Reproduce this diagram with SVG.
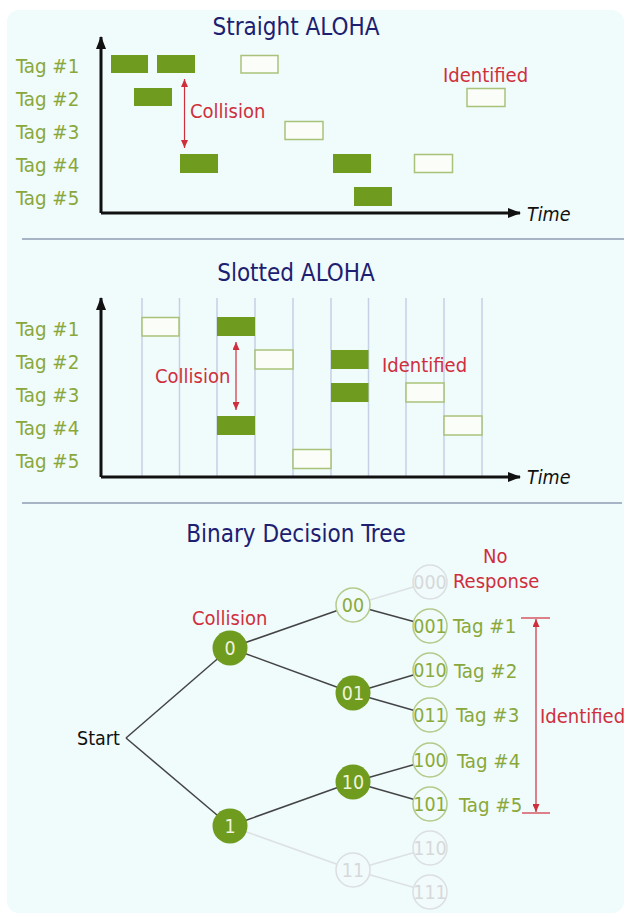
<svg xmlns="http://www.w3.org/2000/svg" width="627" height="917" viewBox="0 0 627 917">
<style>
text{font-family:"DejaVu Sans Condensed","DejaVu Sans",sans-serif}
.title{font-size:24px;fill:#1d2070;text-anchor:middle}
.tag{font-size:20.3px;fill:#8aa83a}
.red{font-size:20px;fill:#cf2f3c}
.time{font-size:19.5px;fill:#111;font-style:italic}
.f{fill:#6f9b1f}
.o{fill:#fbfdf8;stroke:#a9c27a;stroke-width:1.5}
.axis{stroke:#111;stroke-width:3;fill:none}
.slot{stroke:#c5d0e4;stroke-width:1.5}
.sep{stroke:#8e9cb4;stroke-width:1.5}
.rl{stroke:#cf2f3c;stroke-width:1.2;fill:none}
.e{stroke:#444;stroke-width:1.5}
.ef{stroke:#dde1e2;stroke-width:1.5}
.nf{fill:#6f9b1f}
.nt{font-size:19.5px;fill:#eef4dc;text-anchor:middle}
.no{fill:#f2fbfb;stroke:#b3cb8a;stroke-width:1.5}
.not{font-size:19.5px;fill:#8aab3a;text-anchor:middle}
.nx{fill:#f2fbfb;stroke:#dcdfe0;stroke-width:1.5}
.nxt{font-size:19.5px;fill:#d6d9da;text-anchor:middle}
</style>
<defs>
<marker id="ah" markerUnits="userSpaceOnUse" markerWidth="13" markerHeight="10" refX="12" refY="5" orient="auto"><path d="M0,0 L13,5 L0,10 z" fill="#111"/></marker>
<marker id="rh" markerUnits="userSpaceOnUse" markerWidth="8" markerHeight="7" refX="8" refY="3.5" orient="auto-start-reverse"><path d="M0,0 L8,3.5 L0,7 z" fill="#cf2f3c"/></marker>
</defs>
<rect x="0" y="0" width="627" height="917" fill="#ffffff"/>
<rect x="7" y="10" width="617" height="903" rx="12" fill="#f0fbfc"/>
<line class="sep" x1="22" y1="239" x2="624" y2="239"/>
<line class="sep" x1="22" y1="503" x2="622" y2="503"/>

<g id="straight-aloha">
<text class="title" x="296" y="35">Straight ALOHA</text>
<line class="axis" x1="101" y1="213" x2="101" y2="37" marker-end="url(#ah)"/>
<line class="axis" x1="101" y1="213" x2="520" y2="213" marker-end="url(#ah)"/>
<text class="time" x="527" y="221">Time</text>
<text class="tag" x="16" y="73">Tag #1</text>
<text class="tag" x="16" y="106">Tag #2</text>
<text class="tag" x="16" y="139">Tag #3</text>
<text class="tag" x="16" y="172">Tag #4</text>
<text class="tag" x="16" y="205">Tag #5</text>
<rect class="f" x="111" y="55" width="37" height="18"/>
<rect class="f" x="157" y="55" width="38" height="18"/>
<rect class="o" x="241" y="55.5" width="37" height="17.5"/>
<rect class="f" x="134" y="88" width="38" height="18"/>
<rect class="o" x="467" y="88.5" width="38" height="18"/>
<rect class="o" x="285" y="121.5" width="38" height="18"/>
<rect class="f" x="180" y="154" width="38" height="19"/>
<rect class="f" x="333" y="154" width="38" height="19"/>
<rect class="o" x="414.5" y="154.5" width="38" height="18"/>
<rect class="f" x="354" y="187" width="38" height="19"/>
<line class="rl" x1="184.5" y1="79" x2="184.5" y2="148" marker-start="url(#rh)" marker-end="url(#rh)"/>
<text class="red" x="190" y="118">Collision</text>
<text class="red" x="443" y="82">Identified</text>
</g>

<g id="slotted-aloha">
<text class="title" x="296" y="281">Slotted ALOHA</text>
<line class="slot" x1="142" y1="298" x2="142" y2="476"/>
<line class="slot" x1="179.5" y1="298" x2="179.5" y2="476"/>
<line class="slot" x1="217" y1="298" x2="217" y2="476"/>
<line class="slot" x1="255" y1="298" x2="255" y2="476"/>
<line class="slot" x1="293" y1="298" x2="293" y2="476"/>
<line class="slot" x1="331" y1="298" x2="331" y2="476"/>
<line class="slot" x1="368.5" y1="298" x2="368.5" y2="476"/>
<line class="slot" x1="406" y1="298" x2="406" y2="476"/>
<line class="slot" x1="444" y1="298" x2="444" y2="476"/>
<line class="slot" x1="482" y1="298" x2="482" y2="476"/>
<line class="axis" x1="101" y1="477" x2="101" y2="298" marker-end="url(#ah)"/>
<line class="axis" x1="101" y1="477" x2="520" y2="477" marker-end="url(#ah)"/>
<text class="time" x="527" y="484">Time</text>
<text class="tag" x="16" y="336">Tag #1</text>
<text class="tag" x="16" y="369">Tag #2</text>
<text class="tag" x="16" y="402">Tag #3</text>
<text class="tag" x="16" y="435">Tag #4</text>
<text class="tag" x="16" y="468">Tag #5</text>
<rect class="o" x="142" y="317.5" width="37" height="18.5"/>
<rect class="f" x="217" y="317" width="38" height="19"/>
<rect class="o" x="255" y="350" width="38" height="19"/>
<rect class="f" x="331" y="350" width="37.5" height="19"/>
<rect class="f" x="331" y="383" width="37.5" height="19"/>
<rect class="o" x="406" y="383" width="38" height="19"/>
<rect class="f" x="217" y="416" width="38" height="19"/>
<rect class="o" x="444" y="416" width="38" height="19"/>
<rect class="o" x="293" y="449.5" width="38" height="19"/>
<line class="rl" x1="236" y1="342" x2="236" y2="410" marker-start="url(#rh)" marker-end="url(#rh)"/>
<text class="red" x="155" y="383">Collision</text>
<text class="red" x="382" y="372">Identified</text>
</g>

<g id="tree-title"><text class="title" x="296" y="542">Binary Decision Tree</text></g>

<g id="connectors">
<line class="e" x1="126" y1="738" x2="230" y2="648"/>
<line class="e" x1="126" y1="738" x2="230" y2="826"/>
<line class="e" x1="230" y1="648" x2="353" y2="605"/>
<line class="e" x1="230" y1="648" x2="353" y2="693"/>
<line class="e" x1="230" y1="826" x2="353" y2="782"/>
<line class="ef" x1="230" y1="826" x2="353" y2="870"/>
<line class="ef" x1="353" y1="605" x2="430" y2="582"/>
<line class="e" x1="353" y1="605" x2="430" y2="626"/>
<line class="e" x1="353" y1="693" x2="430" y2="670"/>
<line class="e" x1="353" y1="693" x2="430" y2="715"/>
<line class="e" x1="353" y1="782" x2="430" y2="760"/>
<line class="e" x1="353" y1="782" x2="430" y2="804"/>
<line class="ef" x1="353" y1="870" x2="430" y2="848"/>
<line class="ef" x1="353" y1="870" x2="430" y2="892"/>
</g>

<g id="start"><text x="77" y="745" font-size="19.5" fill="#111">Start</text></g>
<g id="n0"><circle class="nf" cx="230" cy="648" r="17.5"/><text class="nt" x="230" y="655">0</text><text class="red" x="192" y="625">Collision</text></g>
<g id="n1"><circle class="nf" cx="230" cy="826" r="17.5"/><text class="nt" x="230" y="833">1</text></g>
<g id="n00"><circle class="no" cx="353" cy="605" r="17"/><text class="not" x="353" y="612">00</text></g>
<g id="n01"><circle class="nf" cx="353" cy="693" r="17.5"/><text class="nt" x="353" y="700">01</text></g>
<g id="n10"><circle class="nf" cx="353" cy="782" r="17.5"/><text class="nt" x="353" y="789">10</text></g>
<g id="n11"><circle class="nx" cx="353" cy="870" r="17"/><text class="nxt" x="353" y="877">11</text></g>
<g id="n000"><circle class="nx" cx="430" cy="582" r="17"/><text class="nxt" x="430" y="589">000</text>
<text class="red" x="483" y="563">No</text><text class="red" x="453" y="588">Response</text></g>
<g id="n001"><circle class="no" cx="430" cy="626" r="17"/><text class="not" x="430" y="633">001</text><text class="tag" x="453" y="633">Tag #1</text></g>
<g id="n010"><circle class="no" cx="430" cy="670" r="17"/><text class="not" x="430" y="677">010</text><text class="tag" x="454" y="678">Tag #2</text></g>
<g id="n011"><circle class="no" cx="430" cy="715" r="17"/><text class="not" x="430" y="722">011</text><text class="tag" x="456" y="722">Tag #3</text></g>
<g id="n100"><circle class="no" cx="430" cy="760" r="17"/><text class="not" x="430" y="767">100</text><text class="tag" x="457" y="768">Tag #4</text></g>
<g id="n101"><circle class="no" cx="430" cy="804" r="17"/><text class="not" x="430" y="811">101</text><text class="tag" x="459" y="812">Tag #5</text></g>
<g id="n110"><circle class="nx" cx="430" cy="848" r="17"/><text class="nxt" x="430" y="855">110</text></g>
<g id="n111"><circle class="nx" cx="430" cy="892" r="17"/><text class="nxt" x="430" y="899">111</text></g>
<g id="identified-bracket">
<line class="rl" x1="521" y1="618" x2="550" y2="618"/>
<line class="rl" x1="522" y1="813" x2="550" y2="813"/>
<line class="rl" x1="536" y1="619" x2="536" y2="812" marker-start="url(#rh)" marker-end="url(#rh)"/>
<text class="red" x="540" y="723">Identified</text>
</g>
</svg>
